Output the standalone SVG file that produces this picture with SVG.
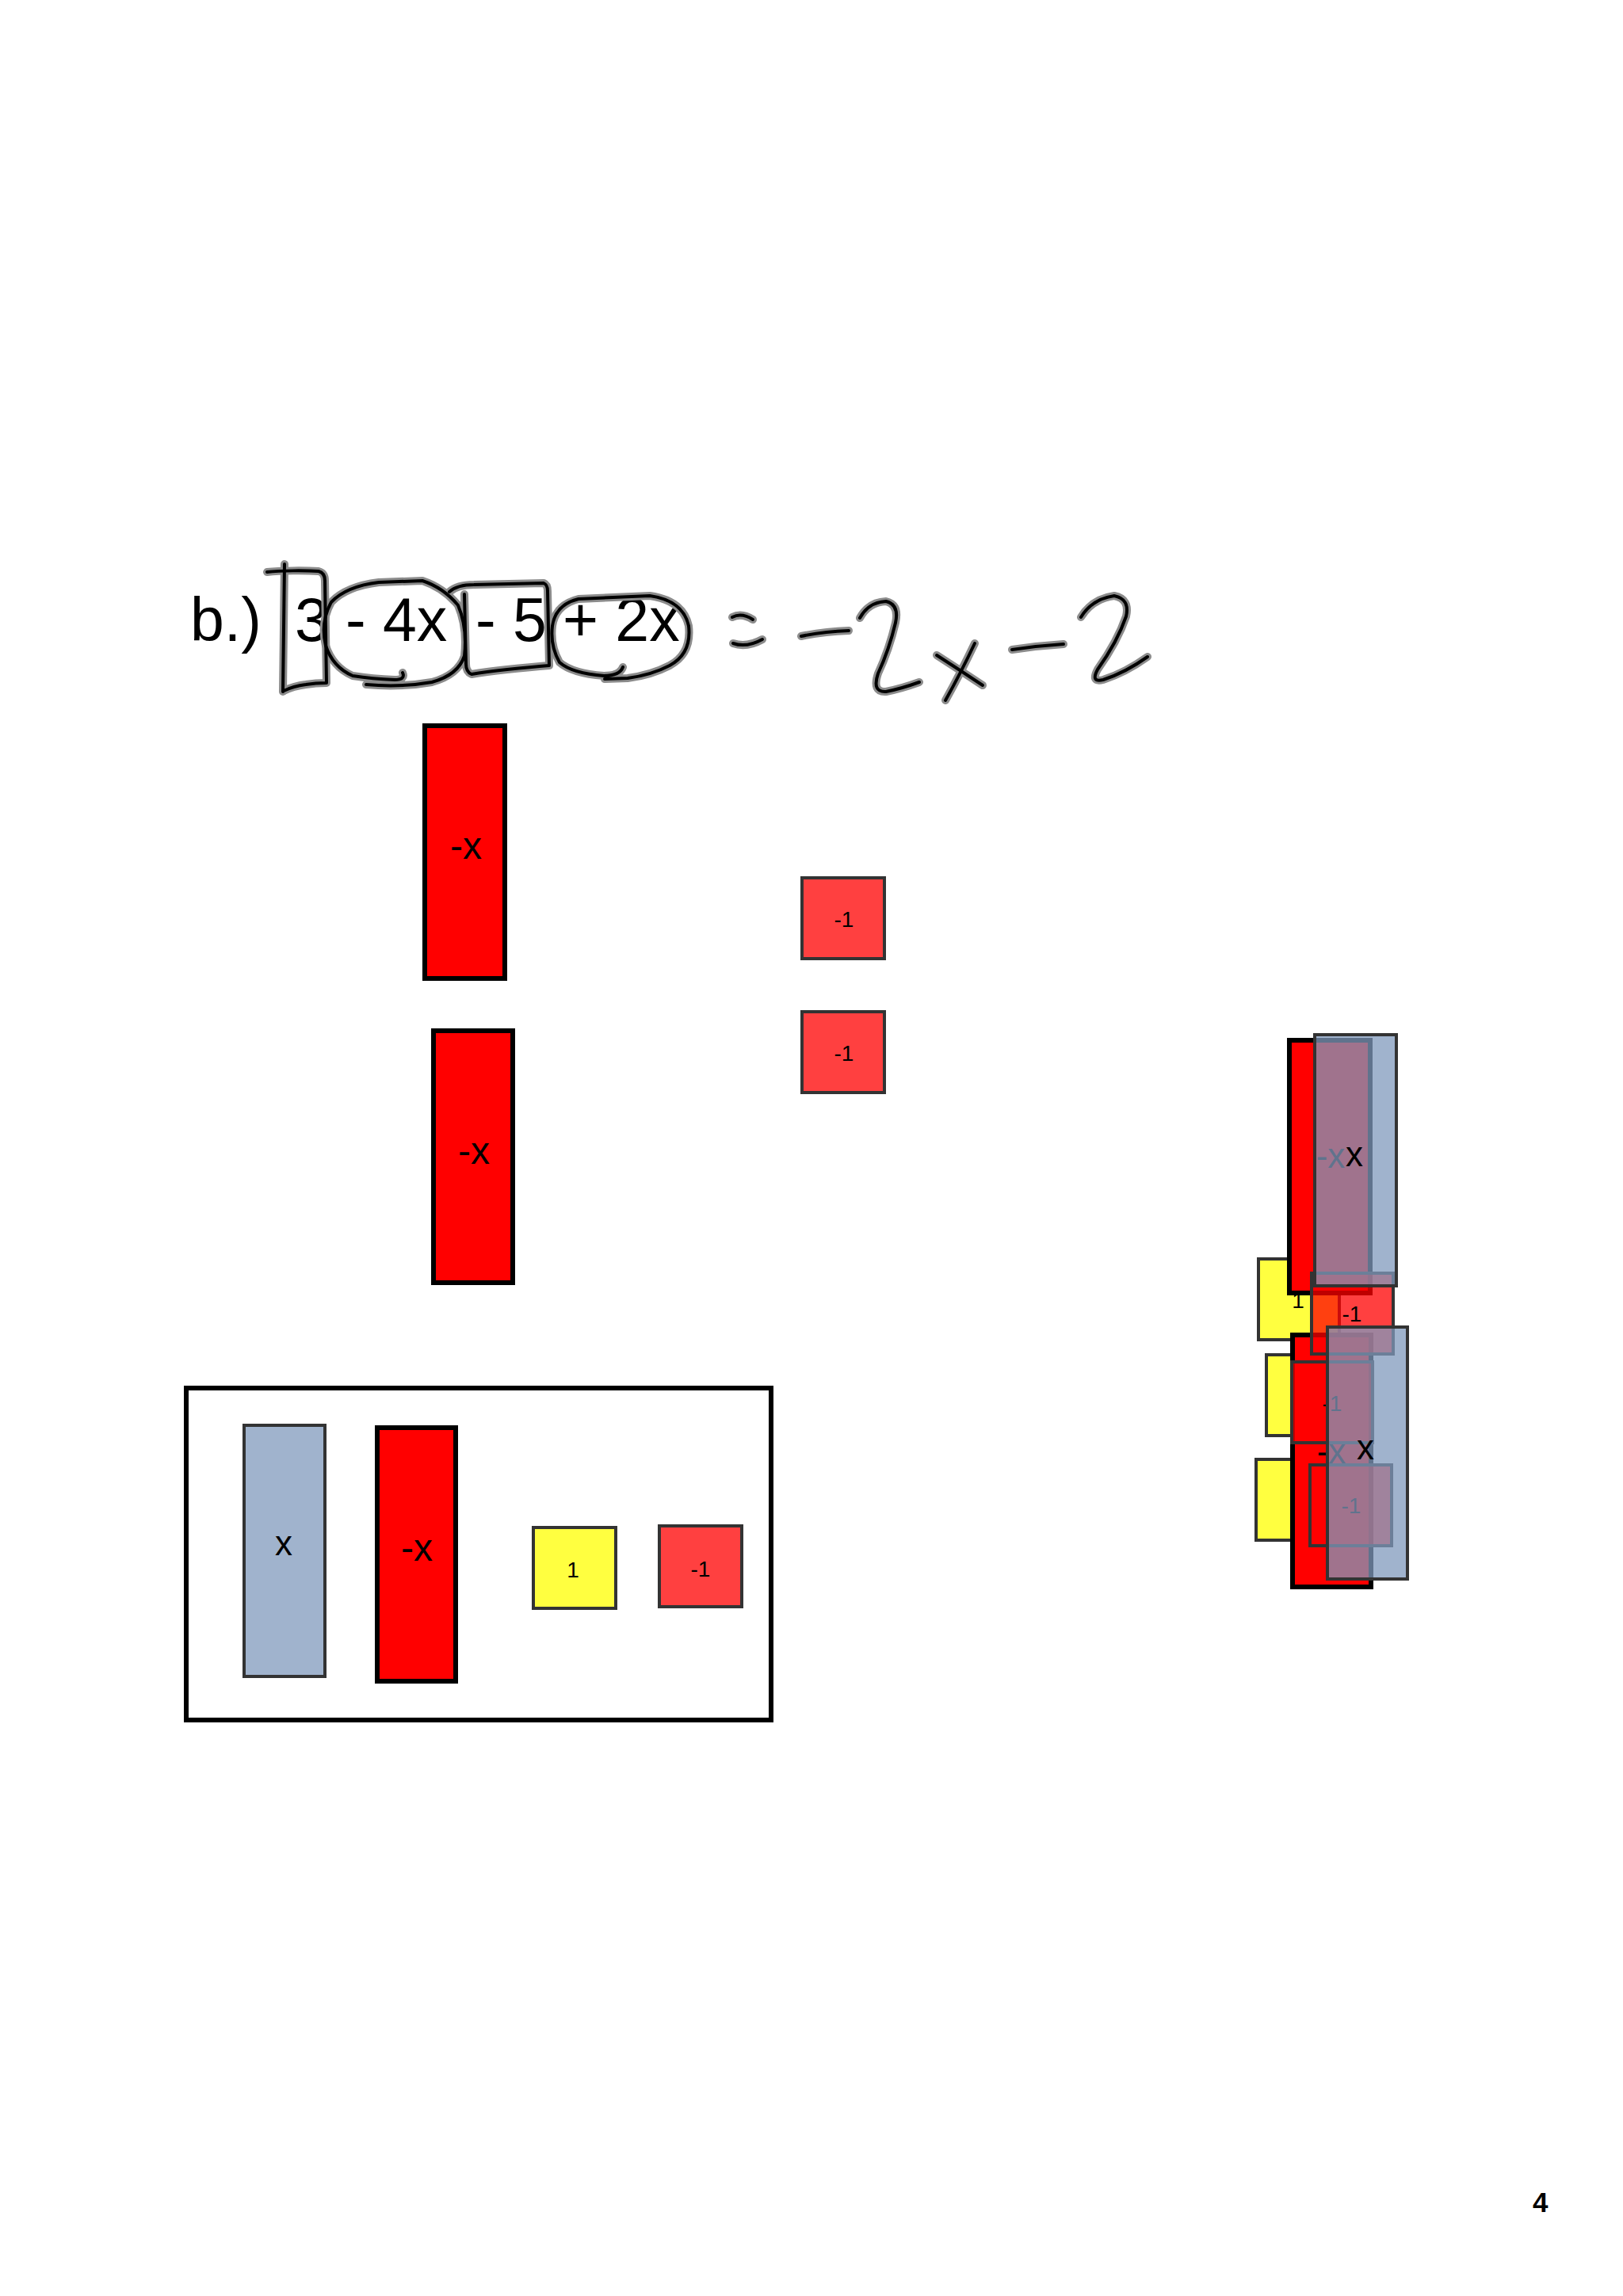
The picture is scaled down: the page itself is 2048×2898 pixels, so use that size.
<svg xmlns="http://www.w3.org/2000/svg" xmlns:xlink="http://www.w3.org/1999/xlink" width="2048" height="2898" viewBox="0 0 2048 2898">
<style>
  text { font-family: "Liberation Sans", Arial, sans-serif; fill: #000; }
  .eq { font-size: 77px; }
  .negx { fill: #ff0000; stroke: #000; stroke-width: 6; }
  .posx { fill: #8099bc; fill-opacity: 0.75; stroke: #333; stroke-width: 4; }
  .one { fill: #ffff00; fill-opacity: 0.75; stroke: #333; stroke-width: 4; }
  .neg1 { fill: #ff0000; fill-opacity: 0.75; stroke: #333; stroke-width: 4; }
  .lblx { font-size: 48px; text-anchor: middle; }
  .lblxs { font-size: 44px; text-anchor: middle; }
  .lbl1 { font-size: 28px; text-anchor: middle; }
  .halo { fill: none; stroke: #8c8c8c; stroke-width: 10; stroke-linecap: round; stroke-linejoin: round; }
  .ink { fill: none; stroke: #000; stroke-width: 4; stroke-linecap: round; stroke-linejoin: round; }
  .frame { fill: none; stroke: #000; stroke-width: 6; }
</style>
<defs>
  <path id="h-bracket-a" d="M 337,722 C 355,720 385,720 402,721 Q 410,723 410,733 L 412,862 Q 398,862 386,864 Q 370,866 358,872"/>
  <path id="h-bracket-b" d="M 359,712 L 357,873"/>
  <path id="h-circle1" d="M 508,849 Q 512,858 498,858 Q 470,857 445,853 Q 420,842 411,815 Q 404,785 418,760 Q 437,740 478,735 L 533,733 Q 560,742 578,764 Q 590,792 586,828 Q 578,852 545,861 Q 505,868 462,864"/>
  <path id="h-box" d="M 567,747 Q 577,738 598,738 L 686,736 Q 691,738 691,746 L 693,840 Q 670,842 640,845 Q 612,848 595,851 Q 588,848 588,838 L 586,750"/>
  <path id="h-circle2" d="M 786,842 Q 782,853 762,853 Q 722,850 706,836 Q 694,815 697,790 Q 701,763 730,756 L 820,752 Q 862,758 869,790 Q 873,825 845,840 Q 822,852 792,856 L 763,857"/>
  <path id="h-eq1" d="M 924,779 Q 936,773 950,782"/>
  <path id="h-eq2" d="M 925,812 Q 942,818 962,807"/>
  <path id="h-minus1" d="M 1011,803 Q 1040,797 1071,796"/>
  <path id="h-two1" d="M 1085,780 Q 1096,760 1118,759 Q 1135,763 1130,786 Q 1122,820 1108,850 Q 1100,874 1118,873 Q 1138,869 1160,861"/>
  <path id="h-x1" d="M 1182,827 Q 1210,845 1240,865"/>
  <path id="h-x2" d="M 1230,812 Q 1212,850 1193,884"/>
  <path id="h-minus2" d="M 1277,820 Q 1310,815 1342,813"/>
  <path id="h-two2" d="M 1364,779 Q 1378,756 1406,752 Q 1426,756 1421,778 Q 1410,810 1385,845 Q 1376,862 1392,858 Q 1420,849 1448,829"/>
</defs>

<rect x="0" y="0" width="2048" height="2898" fill="#ffffff"/>

<g id="equation">
  <text class="eq" x="240" y="809">b.)</text>
  <text class="eq" x="372" y="809">3</text>
  <text class="eq" x="436" y="809">- 4x</text>
  <text class="eq" x="600" y="809">- 5</text>
  <text class="eq" x="710" y="809">+ 2x</text>
  <g id="handwriting">
    <use xlink:href="#h-bracket-a" class="halo"/><use xlink:href="#h-bracket-b" class="halo"/>
    <use xlink:href="#h-circle1" class="halo"/><use xlink:href="#h-box" class="halo"/>
    <use xlink:href="#h-circle2" class="halo"/>
    <use xlink:href="#h-eq1" class="halo"/><use xlink:href="#h-eq2" class="halo"/>
    <use xlink:href="#h-minus1" class="halo"/><use xlink:href="#h-two1" class="halo"/>
    <use xlink:href="#h-x1" class="halo"/><use xlink:href="#h-x2" class="halo"/>
    <use xlink:href="#h-minus2" class="halo"/><use xlink:href="#h-two2" class="halo"/>
    <use xlink:href="#h-bracket-a" class="ink"/><use xlink:href="#h-bracket-b" class="ink"/>
    <use xlink:href="#h-circle1" class="ink"/><use xlink:href="#h-box" class="ink"/>
    <use xlink:href="#h-circle2" class="ink"/>
    <use xlink:href="#h-eq1" class="ink"/><use xlink:href="#h-eq2" class="ink"/>
    <use xlink:href="#h-minus1" class="ink"/><use xlink:href="#h-two1" class="ink"/>
    <use xlink:href="#h-x1" class="ink"/><use xlink:href="#h-x2" class="ink"/>
    <use xlink:href="#h-minus2" class="ink"/><use xlink:href="#h-two2" class="ink"/>
  </g>
</g>

<g id="tile-negx-1"><rect class="negx" x="536" y="916" width="101" height="319"/><text class="lblx" x="588" y="1084">-x</text></g>
<g id="tile-negx-2"><rect class="negx" x="547" y="1301" width="100" height="318"/><text class="lblx" x="598" y="1469">-x</text></g>
<g id="tile-neg1-1"><rect class="neg1" x="1012" y="1108" width="104" height="102"/><text class="lbl1" x="1065" y="1170">-1</text></g>
<g id="tile-neg1-2"><rect class="neg1" x="1012" y="1277" width="104" height="102"/><text class="lbl1" x="1065" y="1339">-1</text></g>

<g id="legend">
  <rect class="frame" x="235" y="1752" width="738" height="419"/>
  <g id="legend-x"><rect class="posx" x="308" y="1799" width="102" height="317"/><text class="lblxs" x="358" y="1963">x</text></g>
  <g id="legend-negx"><rect class="negx" x="476" y="1802" width="99" height="320"/><text class="lblx" x="526" y="1970">-x</text></g>
  <g id="legend-1"><rect class="one" x="673" y="1928" width="104" height="102"/><text class="lbl1" x="723" y="1991">1</text></g>
  <g id="legend-neg1"><rect class="neg1" x="832" y="1926" width="104" height="102"/><text class="lbl1" x="884" y="1990">-1</text></g>
</g>

<g id="stack">
  <g id="stack-one-1"><rect class="one" x="1588" y="1589" width="102" height="102"/><text class="lbl1" x="1638" y="1651">1</text></g>
  <g id="stack-one-2"><rect class="one" x="1598" y="1710" width="102" height="102"/><text class="lbl1" x="1648" y="1772">1</text></g>
  <g id="stack-one-3"><rect class="one" x="1585" y="1842" width="102" height="102"/><text class="lbl1" x="1635" y="1904">1</text></g>
  <g id="stack-negx-1"><rect class="negx" x="1627" y="1313" width="102" height="319"/><text class="lblxs" x="1679" y="1474">-x</text></g>
  <g id="stack-negx-2"><rect class="negx" x="1631" y="1685" width="99" height="318"/><text class="lblxs" x="1680" y="1847">-x</text></g>
  <g id="stack-neg1-mid"><rect class="neg1" x="1630" y="1719" width="102" height="102"/><text class="lbl1" x="1681" y="1781">-1</text></g>
  <g id="stack-neg1-top"><rect class="neg1" x="1655" y="1607" width="103" height="102"/><text class="lbl1" x="1706" y="1668">-1</text></g>
  <g id="stack-neg1-low"><rect class="neg1" x="1653" y="1849" width="103" height="102"/><text class="lbl1" x="1705" y="1910">-1</text></g>
  <g id="stack-x-1"><rect class="posx" x="1659" y="1306" width="103" height="317"/><text class="lblxs" x="1709" y="1472">x</text></g>
  <g id="stack-x-2"><rect class="posx" x="1675" y="1675" width="101" height="318"/><text class="lblxs" x="1723" y="1842">x</text></g>
</g>

<g id="connectors"/>

<text id="page-number" x="1934" y="2792" style="font-size:35px;font-weight:bold">4</text>
</svg>
